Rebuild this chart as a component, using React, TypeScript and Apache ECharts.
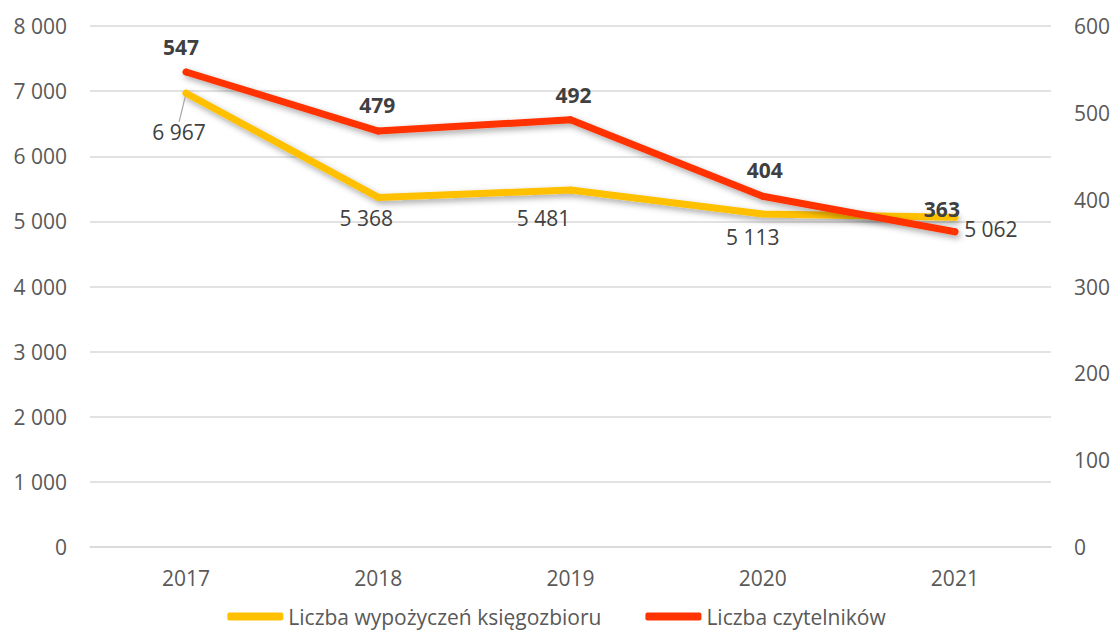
import React, { useEffect, useRef } from "react";
import * as echarts from "echarts";

const categories = ["2017", "2018", "2019", "2020", "2021"];
const loans = [6967, 5368, 5481, 5113, 5062];
const readers = [547, 479, 492, 404, 363];
const seriesNames = ["Liczba wypożyczeń księgozbioru", "Liczba czytelników"];

// label displacement from the data point (styling only)
const loanLabelShift = [
  [-7, 39],
  [-12, 21],
  [-27, 28],
  [-10, 23],
  [36, 12],
];
const readerLabelShift = [
  [-5, -25],
  [-1, -26],
  [3, -25],
  [2, -26],
  [-13, -23],
];

const FONT = "'Open Sans', 'Noto Sans', sans-serif";
const FS = 21;

export default function App() {
  const ref = useRef<HTMLDivElement>(null);
  useEffect(() => {
    if (!ref.current) return;
    const chart = echarts.init(ref.current, undefined, { renderer: "svg" });
    const fmt = (v: number) => String(v).replace(/\B(?=(\d{3})+(?!\d))/g, " ");
    chart.setOption({
      animation: false,
      textStyle: { fontFamily: FONT },
      grid: { left: 90, right: 61, top: 26, bottom: 86 },
      legend: {
        top: 601,
        left: "center",
        itemWidth: 56,
        itemHeight: 8,
        itemGap: 44,
        icon: "roundRect",
        textStyle: { fontFamily: FONT, fontSize: FS, color: "#595959" },
        data: [
          { name: seriesNames[0], itemStyle: { color: "#FFC000" } },
          { name: seriesNames[1], itemStyle: { color: "#FF3300" } },
        ],
      },
      xAxis: {
        type: "category",
        data: categories,
        boundaryGap: true,
        axisLine: { lineStyle: { color: "#d9d9d9", width: 1.5 } },
        axisTick: { show: false },
        axisLabel: { color: "#595959", fontSize: FS, fontFamily: FONT, margin: 20 },
      },
      yAxis: [
        {
          type: "value",
          min: 0,
          max: 8000,
          interval: 1000,
          axisLine: { show: false },
          axisTick: { show: false },
          axisLabel: { color: "#595959", fontSize: FS, fontFamily: FONT, margin: 23, formatter: fmt },
          splitLine: { lineStyle: { color: "#d9d9d9", width: 1.5 } },
        },
        {
          type: "value",
          min: 0,
          max: 600,
          interval: 100,
          position: "right",
          axisLine: { show: false },
          axisTick: { show: false },
          axisLabel: { color: "#595959", fontSize: FS, fontFamily: FONT, margin: 23 },
          splitLine: { show: false },
        },
      ],
      series: [
        {
          name: seriesNames[0],
          type: "line",
          yAxisIndex: 0,
          data: loans.map((v, i) => ({
            value: v,
            labelLine: { show: i === 0, lineStyle: { color: "#a6a6a6", width: 1.2 } },
          })),
          symbol: "circle",
          symbolSize: 7,
          itemStyle: { color: "#FFC000" },
          lineStyle: {
            color: "#FFC000",
            width: 7,
            cap: "round",
            join: "round",
            shadowColor: "rgba(0,0,0,0.35)",
            shadowBlur: 6,
            shadowOffsetX: 2,
            shadowOffsetY: 3,
          },
          label: {
            show: true,
            position: "inside",
            color: "#404040",
            fontSize: FS,
            fontFamily: FONT,
            formatter: (p: any) => fmt(p.value),
          },
          labelLine: { show: false },
          labelLayout: (p: any) => ({
            dx: loanLabelShift[p.dataIndex][0],
            dy: loanLabelShift[p.dataIndex][1],
          }),
          z: 2,
        },
        {
          name: seriesNames[1],
          type: "line",
          yAxisIndex: 1,
          data: readers,
          symbol: "circle",
          symbolSize: 7,
          itemStyle: { color: "#FF3300" },
          lineStyle: {
            color: "#FF3300",
            width: 7,
            cap: "round",
            join: "round",
            shadowColor: "rgba(0,0,0,0.35)",
            shadowBlur: 6,
            shadowOffsetX: 2,
            shadowOffsetY: 3,
          },
          label: {
            show: true,
            position: "inside",
            color: "#404040",
            fontSize: FS,
            fontWeight: "bold",
            fontFamily: FONT,
          },
          labelLayout: (p: any) => ({
            dx: readerLabelShift[p.dataIndex][0],
            dy: readerLabelShift[p.dataIndex][1],
          }),
          z: 3,
        },
      ],
    });
    return () => chart.dispose();
  }, []);
  return (
    <div
      ref={ref}
      style={{ position: "absolute", left: 0, top: 0, width: 1113, height: 633 }}
    />
  );
}
